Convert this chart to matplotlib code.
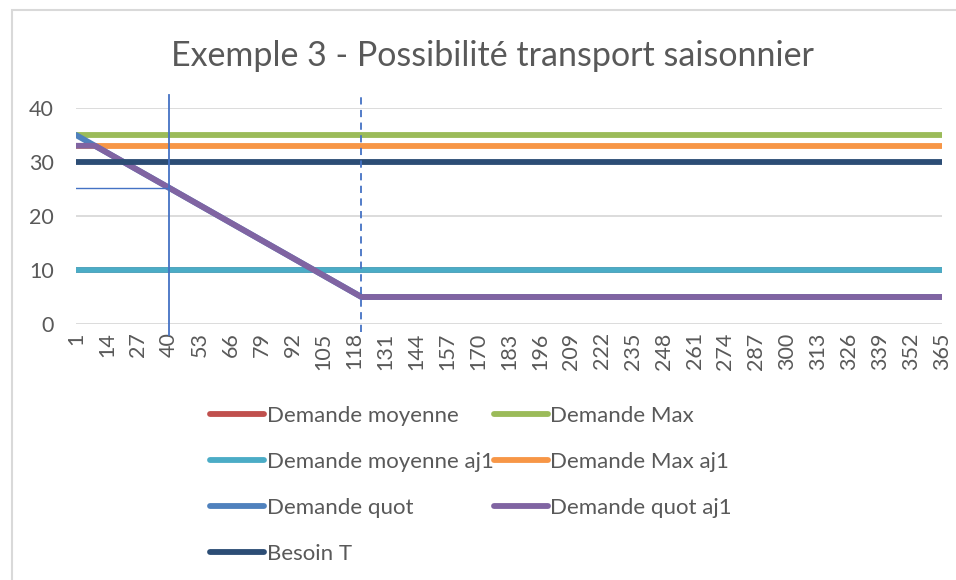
import matplotlib
matplotlib.use("Agg")
import matplotlib.pyplot as plt
from matplotlib.patches import Rectangle

plt.rcParams['font.family'] = ['Lato', 'DejaVu Sans']

title = "Exemple 3 - Possibilité transport saisonnier"
days = list(range(1, 366))
tick_days = list(range(1, 366, 13))

# breakpoint data (day, value)
moy_days = [1, 365];           moy_vals = [10, 10]
max_days = [1, 365];           max_vals = [35, 35]
moy_aj1_days = [1, 365];       moy_aj1_vals = [10, 10]
max_aj1_days = [1, 365];       max_aj1_vals = [33, 33]
quot_days = [1, 121, 365];     quot_vals = [35, 5, 5]
quot_aj1_days = [1, 9, 121, 365]; quot_aj1_vals = [33, 33, 5, 5]
besoin_days = [1, 365];        besoin_vals = [30, 30]

marker_day = 40
marker_val = 25.25
dashed_day = 121

W, H = 956, 580
fig = plt.figure(figsize=(W/100, H/100), dpi=100)
ax = fig.add_axes([76/W, 1-324/H, (942-76)/W, (324-108)/H])

lw = 4.2
series = [
    ("Demande moyenne", moy_days, moy_vals, "#c0504d"),
    ("Demande Max", max_days, max_vals, "#9bbb59"),
    ("Demande moyenne aj1", moy_aj1_days, moy_aj1_vals, "#4bacc6"),
    ("Demande Max aj1", max_aj1_days, max_aj1_vals, "#f79646"),
    ("Demande quot", quot_days, quot_vals, "#4f81bd"),
    ("Demande quot aj1", quot_aj1_days, quot_aj1_vals, "#8064a2"),
    ("Besoin T", besoin_days, besoin_vals, "#2c4d75"),
]
handles = []
for name, xd, yd, c in series:
    h, = ax.plot(xd, yd, color=c, lw=lw, solid_capstyle='round', label=name, zorder=3)
    handles.append(h)

ax.set_xlim(1, 365)
ax.set_ylim(0, 40)
ax.set_yticks([0, 10, 20, 30, 40])
ax.set_xticks(tick_days)
ax.set_xticklabels([str(d) for d in tick_days], rotation=90)
ax.tick_params(axis='both', length=0, labelsize=15.5, colors='#595959')
ax.tick_params(axis='y', pad=16)
ax.tick_params(axis='x', pad=6)
ax.grid(axis='y', color='#d9d9d9', lw=1.3)
ax.set_axisbelow(True)
for s in ax.spines.values():
    s.set_visible(False)

# vertical marker lines and horizontal marker
ax.plot([marker_day, marker_day], [-2, 42.4], color='#4472c4', lw=1.3, clip_on=False, zorder=4)
ax.plot([1, marker_day], [marker_val, marker_val], color='#4472c4', lw=1.0, zorder=4)
ax.plot([dashed_day, dashed_day], [-1.5, 42.4], color='#4472c4', lw=1.3, ls=(0, (4, 3)), clip_on=False, zorder=4)

fig.text(492/W, 1-56/H, title, ha='center', va='center', fontsize=24.5, color='#595959')

order = [0, 2, 4, 6, 1, 3, 5]
leg = fig.legend([handles[i] for i in order], [series[i][0] for i in order],
                 ncol=2, loc='upper left', bbox_to_anchor=(190/W, 1-386/H),
                 frameon=False, fontsize=16, handlelength=2.45, handletextpad=0.1,
                 columnspacing=0.0, labelspacing=1.17, labelcolor='#595959')

fig.patches.append(Rectangle((12/W, -0.1), 1.2, 1.1-10/H, transform=fig.transFigure,
                             fill=False, edgecolor='#d9d9d9', lw=1.5))
fig.savefig("out.png", dpi=100)
